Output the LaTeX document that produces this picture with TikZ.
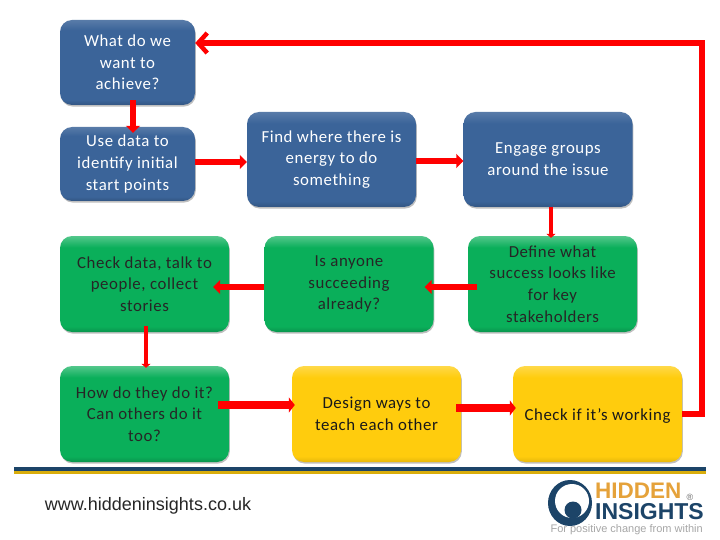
\documentclass[tikz,border=0pt]{standalone}
\usepackage{fontspec}
\setmainfont[LetterSpace=3.5]{Carlito}
\newfontfamily\urlfont{Liberation Sans}
\newfontfamily\logofont{Liberation Sans}
\usetikzlibrary{arrows.meta,shadows}
\definecolor{boxblue}{HTML}{3B6499}
\definecolor{boxgreen}{HTML}{0AAF5A}
\definecolor{boxyellow}{HTML}{FFCC0D}
\definecolor{logonavy}{HTML}{1C4468}
\definecolor{logoorange}{HTML}{E5A23A}
\pgfdeclareverticalshading{blueshade}{100bp}{color(0bp)=(boxblue!85!black); color(25bp)=(boxblue!85!black); color(28bp)=(boxblue); color(69bp)=(boxblue); color(75bp)=(boxblue!85!white); color(100bp)=(boxblue!85!white)}
\pgfdeclareverticalshading{greenshade}{100bp}{color(0bp)=(boxgreen!85!black); color(25bp)=(boxgreen!85!black); color(28bp)=(boxgreen); color(69bp)=(boxgreen); color(75bp)=(boxgreen!70!white); color(100bp)=(boxgreen!70!white)}
\pgfdeclareverticalshading{yellowshade}{100bp}{color(0bp)=(boxyellow!90!black); color(25bp)=(boxyellow!90!black); color(28bp)=(boxyellow); color(69bp)=(boxyellow); color(75bp)=(boxyellow!75!white); color(100bp)=(boxyellow!75!white)}
\tikzset{
  stagebox/.style={rounded corners=12pt,inner sep=0pt,align=center,
    minimum width=169pt,minimum height=96pt,
    font=\fontsize{16.8}{21.7}\selectfont,
    execute at begin node={\rule{0pt}{16.5pt}},
    drop shadow={shadow xshift=0.8pt,shadow yshift=-1.6pt,opacity=0.25,fill=black}},
  bluebox/.style={stagebox,shading=blueshade,text=white},
  greenbox/.style={stagebox,shading=greenshade,text=black!85},
  yellowbox/.style={stagebox,shading=yellowshade,text=black!90},
  flow/.style={draw=red,line width=6pt,-{Triangle[length=7pt,width=14pt]}},
  thinflow/.style={draw=red,line width=4.5pt,-{Triangle[length=4pt,width=9pt]}},
  bigflow/.style={draw=red,line width=8pt,-{Triangle[length=6pt,width=15pt]}},
}
\begin{document}
\begin{tikzpicture}[x=1pt,y=-1pt]
\useasboundingbox (0,0) rectangle (720,540);
\node[bluebox,minimum width=135pt,minimum height=85pt] (achieve) at (127.5,62.5) {What do we\\want to\\achieve?};
\node[bluebox,minimum width=135pt,minimum height=74pt] (usedata) at (127.5,164) {Use data to\\identify initial\\start points};
\node[bluebox,minimum height=95pt] (energy) at (331.5,159.5) {Find where there is\\energy to do\\something};
\node[bluebox,minimum height=95pt] (engage) at (548,159.5) {Engage groups\\around the issue};
\node[greenbox] (check) at (144.5,284) {Check data, talk to\\people, collect\\stories};
\node[greenbox] (succeed) at (349,284) {Is anyone\\succeeding\\already?};
\node[greenbox] (define) at (552.5,284) {Define what\\success looks like\\for key\\stakeholders};
\node[greenbox] (howdo) at (144.5,414) {How do they do it?\\Can others do it\\too?};
\node[yellowbox] (design) at (376.5,414) {Design ways to\\teach each other};
\node[yellowbox] (working) at (597.5,414) {Check if it's working};
\coordinate (cornerlow) at (702,414);
\coordinate (cornerhigh) at (702,43);
\draw[flow,shorten <=-5pt,shorten >=-6pt] ([xshift=5.5pt]achieve.south) -- ([xshift=5.5pt]usedata.north);
\draw[flow] ([yshift=2pt]usedata.east) -- ([yshift=-2.5pt]energy.west);
\draw[flow] ([yshift=-1.5pt]energy.east) -- ([yshift=-1.5pt]engage.west);
\draw[thinflow,shorten >=-2pt] ([xshift=3pt]engage.south) -- ([xshift=-1.5pt]define.north);
\draw[flow,shorten <=-9pt,shorten >=-9pt] ([yshift=-3pt]define.west) -- ([yshift=-3pt]succeed.east);
\draw[flow,shorten >=-16pt] ([yshift=-3pt]succeed.west) -- ([yshift=-3pt]check.east);
\draw[thinflow,shorten <=-6pt,shorten >=-2pt] ([xshift=1.5pt]check.south) -- ([xshift=1.5pt]howdo.north);
\draw[bigflow,shorten <=-11pt,shorten >=-3pt] ([yshift=9pt]howdo.east) -- ([yshift=9pt]design.west);
\draw[bigflow,shorten <=-5pt,shorten >=-3pt] ([yshift=6pt]design.east) -- ([yshift=6pt]working.west);
\draw[draw=red,line width=5.5pt,miter limit=2,-{Straight Barb[length=9pt,width=20pt,line width=4.5pt]}] (working.east) -- (cornerlow) -- (cornerhigh) -- (achieve.east |- cornerhigh);
\fill[logonavy] (14,467) rectangle (706,470.5);
\fill[boxyellow!85!black] (14,470.5) rectangle (706,473.5);
\node[font=\urlfont\fontsize{18}{22}\selectfont,text=black!85,inner sep=0pt] (weblink) at (148,506) {www.hiddeninsights.co.uk};
\fill[logonavy] (570,503) ellipse (22pt and 23pt);
\fill[white] (572,501) circle (17pt);
\fill[logonavy] (573,510) circle (8.5pt);
\node[font=\logofont\bfseries\fontsize{22.5}{22.5}\selectfont,text=logoorange,inner sep=0pt,anchor=west] (logotop) at (595,491) {HIDDEN};
\node[font=\logofont\fontsize{9}{9}\selectfont,text=black!60,inner sep=0pt] (logoreg) at (690,497) {®};
\node[font=\logofont\bfseries\fontsize{23}{23}\selectfont,text=logonavy,inner sep=0pt,anchor=west] (logobottom) at (595,512) {INSIGHTS};
\node[font=\logofont\fontsize{11}{11}\selectfont,text=black!35,inner sep=0pt,anchor=east] (logotag) at (703,530) {For positive change from within};
\end{tikzpicture}
\end{document}
